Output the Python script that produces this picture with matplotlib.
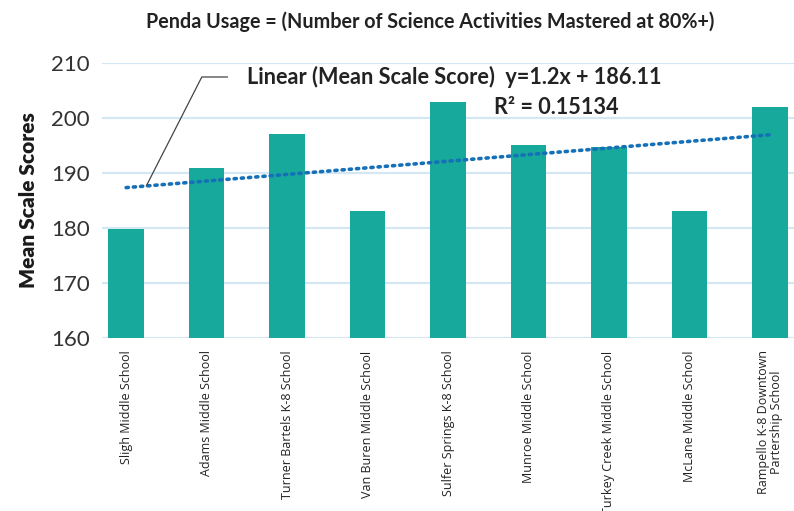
import numpy as np
import matplotlib.pyplot as plt

# data
schools = ["Sligh Middle School", "Adams Middle School", "Turner Bartels K-8 School",
           "Van Buren Middle School", "Sulfer Springs K-8 School", "Munroe Middle School",
           "Turkey Creek Middle School", "McLane Middle School",
           "Rampello K-8 Downtown\nPartership School"]
mean_scores = [179.8, 190.8, 197.0, 183.1, 202.8, 195.0, 194.7, 183.1, 201.9]
trend_slope = 1.2
trend_intercept = 186.11
r_squared = 0.15134

teal = "#17a99b"
grid_blue = "#d3e8f3"
dot_blue = "#1670b8"

fig = plt.figure(figsize=(7.94, 5.11), dpi=100)
ax = fig.add_axes([0.1285, 0.3386, 0.8715, 0.5387])

x = np.arange(1, len(schools) + 1)
ax.bar(x, mean_scores, width=0.44, color=teal, zorder=2)

# linear trendline over the category positions
trend_y = trend_slope * x + trend_intercept
ax.plot(x, trend_y, linestyle=(0, (0.6, 1.4)), dash_capstyle="round",
        color=dot_blue, lw=2.6, zorder=3)

ax.set_xlim(0.7, len(schools) + 0.3)
ax.set_ylim(160, 210)
ax.set_yticks(np.arange(160, 211, 10))
ax.grid(axis="y", color=grid_blue, lw=1.6, zorder=0)
ax.set_axisbelow(True)
for s in ax.spines.values():
    s.set_visible(False)
ax.tick_params(axis="both", length=0)
ax.tick_params(axis="y", pad=9)
ax.tick_params(axis="x", pad=9)

ax.set_xticks(x)
ax.set_xticklabels(schools, rotation=90, fontsize=9, family="Open Sans",
                   color="#222222", multialignment="center", linespacing=1.0)
for lbl in ax.get_yticklabels():
    lbl.set_fontfamily("Lato")
    lbl.set_fontweight("normal")
    lbl.set_fontsize(16)
    lbl.set_color("#333333")

ax.set_ylabel("Mean Scale Scores", family="Lato", fontweight="heavy",
              fontsize=15, color="#1a1a1a")
ax.yaxis.set_label_coords(-0.092, 0.5)

fig.text(0.542, 0.957, "Penda Usage = (Number of Science Activities Mastered at 80%+)",
         ha="center", va="center", family="Lato", fontweight="bold",
         fontsize=14.2, color="#222222")

# trendline label with leader line
eq = f"Linear (Mean Scale Score)  y={trend_slope}x + {trend_intercept}"
ax.annotate(eq, xy=(1.25, trend_slope * 1.25 + trend_intercept),
            xytext=(247, 434), textcoords="figure pixels",
            ha="left", va="center", family="Lato", fontweight="bold",
            fontsize=15.6, color="#222222",
            arrowprops=dict(arrowstyle="-", color="#444444", lw=0.9,
                            connectionstyle="angle,angleA=0,angleB=63,rad=0",
                            shrinkA=12, shrinkB=0))
fig.text(494, 404, f"R² = {r_squared}", transform=None,
         ha="left", va="center", family="Lato", fontweight="bold",
         fontsize=15.6, color="#222222")

fig.savefig("out.png", dpi=100)
